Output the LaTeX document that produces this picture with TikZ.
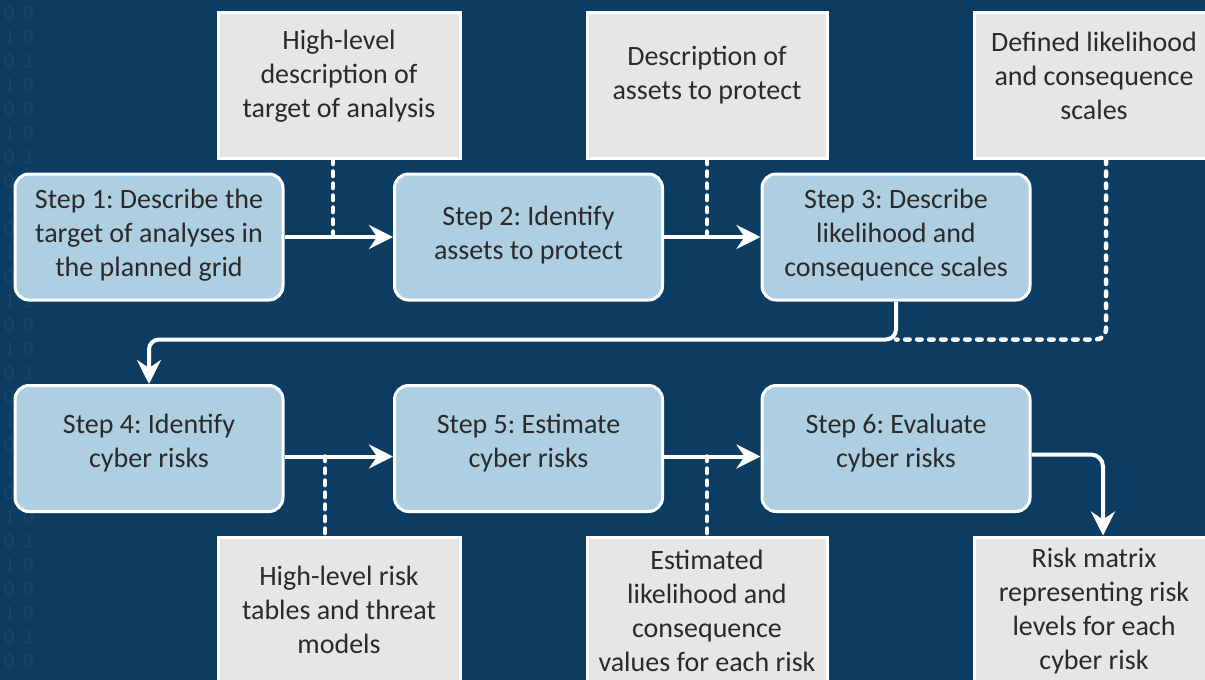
\documentclass[tikz,border=0pt]{standalone}
\usepackage{fontspec}
\setmainfont{Carlito}
\usetikzlibrary{arrows.meta,shapes.misc}
\frenchspacing

\definecolor{navy}{HTML}{0C3C62}
\definecolor{stepfill}{HTML}{AECFE2}
\definecolor{docfill}{HTML}{E6E6E6}
\definecolor{ink}{HTML}{2A2A2A}
\definecolor{bitcol}{HTML}{17476D}

\tikzset{
  stepbox/.style={draw=white, line width=3pt, fill=stepfill, rounded corners=14pt,
    minimum width=268pt, minimum height=126pt, inner sep=0pt},
  docbox/.style={draw=white, line width=3pt, fill=docfill, chamfered rectangle,
    chamfered rectangle corners=north east, chamfered rectangle xsep=23pt,
    chamfered rectangle ysep=21pt, minimum width=242pt, minimum height=146pt, inner sep=0pt},
  label/.style={text=ink, align=center, font=\fontsize{28}{34}\selectfont, inner sep=0pt},
  flow/.style={draw=white, line width=4pt, -{Stealth[length=24pt,width=24pt,inset=8pt]}},
  feed/.style={draw=white, line width=4.5pt, line cap=round, dash pattern=on 4.5pt off 7.5pt},
}

\begin{document}
\begin{tikzpicture}[x=1pt, y=-1pt]
  % canvas
  \fill[navy] (0,0) rectangle (1205,680);
  \useasboundingbox (0,0) rectangle (1205,680);
  \clip (0,0) rectangle (1205,680);

  % faint binary texture along the left edge
  \node[text=bitcol, font=\fontsize{20}{24}\selectfont, align=left, anchor=north west, inner sep=0pt]
    (bits) at (4,6) {0\ \ 0\\1\ \ 0\\0\ \ 1\\1\ \ 0\\0\ \ 0\\1\ \ 0\\0\ \ 1\\0\ \ 0\\1\ \ 0\\0\ \ 1\\1\ \ 0\\0\ \ 0\\1\ \ 1\\0\ \ 0\\1\ \ 0\\0\ \ 1\\0\ \ 0\\1\ \ 0\\0\ \ 1\\1\ \ 0\\0\ \ 0\\1\ \ 0\\0\ \ 1\\1\ \ 0\\0\ \ 0\\1\ \ 0\\0\ \ 1\\0\ \ 0};

  % process steps
  \node[stepbox] (s1) at (149,237) {};
  \node[stepbox] (s2) at (528.5,237) {};
  \node[stepbox] (s3) at (896,237) {};
  \node[stepbox] (s4) at (149,448.5) {};
  \node[stepbox] (s5) at (528.5,448.5) {};
  \node[stepbox] (s6) at (896,448.5) {};

  \node[label] (t1) at (149,235) {Step 1: Describe the\\target of analyses in\\the planned grid};
  \node[label] (t2) at (528.5,235) {Step 2: Identify\\assets to protect};
  \node[label] (t3) at (896,235) {Step 3: Describe\\likelihood and\\consequence scales};
  \node[label] (t4) at (149,443) {Step 4: Identify\\cyber risks};
  \node[label] (t5) at (528.5,443) {Step 5: Estimate\\cyber risks};
  \node[label] (t6) at (896,443) {Step 6: Evaluate\\cyber risks};

  % documents
  \node[docbox] (dA) at (339,85) {};
  \node[docbox, minimum width=240pt] (dB) at (707,85) {};
  \node[docbox] (dC) at (1095,85) {};
  \node[docbox] (dD) at (339,610) {};
  \node[docbox, minimum width=240pt] (dE) at (707,610) {};
  \node[docbox] (dF) at (1095,610) {};

  \node[label] (tA) at (339,76) {High-level\\description of\\target of analysis};
  \node[label] (tB) at (707,75) {Description of\\assets to protect};
  \node[label] (tC) at (1094,76) {Defined likelihood\\and consequence\\scales};
  \node[label] (tD) at (339,610) {High-level risk\\tables and threat\\models};
  \node[label] (tE) at (707,611) {Estimated\\likelihood and\\consequence\\values for each risk};
  \node[label] (tF) at (1094,611) {Risk matrix\\representing risk\\levels for each\\cyber risk};

  % joint points
  \coordinate (j3) at ([yshift=-38pt]s3.south);
  \coordinate (jA) at ([xshift=-6pt]dA.south |- s1.east);
  \coordinate (jB) at (dB.south |- s2.east);
  \coordinate (r4) at ([yshift=-8pt]s4.east);
  \coordinate (r5) at ([yshift=-8pt]s5.east);
  \coordinate (jD) at ([xshift=-14pt]dD.north |- r4);
  \coordinate (jE) at (dE.north |- r5);

  % document feeds (dotted)
  \draw[feed] ([xshift=-6pt]dA.south) -- (jA);
  \draw[feed] (dB.south) -- (jB);
  \draw[feed, rounded corners=10pt] ([xshift=11pt]dC.south) |- (j3);
  \draw[feed] (jD) -- ([xshift=-14pt]dD.north);
  \draw[feed] (jE) -- (dE.north);

  % main flow
  \draw[flow] (s1.east) -- (s2.west);
  \draw[flow] (s2.east) -- (s3.west);
  \draw[flow, rounded corners=10pt] (s3.south) -- (j3) -| (s4.north);
  \draw[flow] (r4) -- ([yshift=-8pt]s5.west);
  \draw[flow] (r5) -- ([yshift=-8pt]s6.west);
  \draw[flow, rounded corners=12pt] ([yshift=-6pt]s6.east) -| ([xshift=8pt]dF.north);
\end{tikzpicture}
\end{document}
